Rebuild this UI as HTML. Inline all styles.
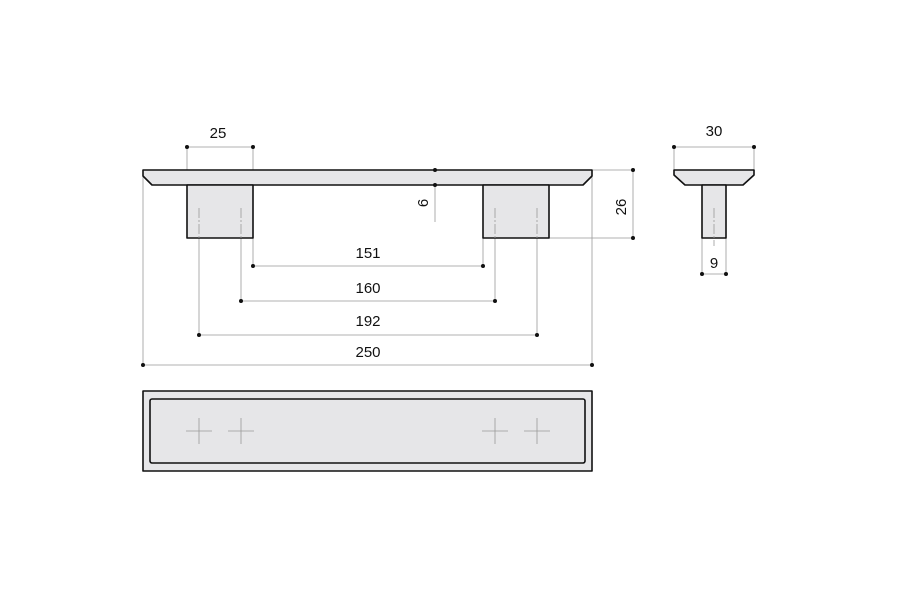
<!DOCTYPE html><html><head><style>body{margin:0;background:#fff}svg{display:block}text{font-family:"Liberation Sans",sans-serif;font-size:15px;fill:#111}</style></head><body>
<svg width="900" height="597" viewBox="0 0 900 597">
<g stroke="#999" stroke-width="0.8" fill="none">
<line x1="187" y1="147" x2="187" y2="185"/><line x1="253" y1="147" x2="253" y2="185"/>
<line x1="143" y1="176" x2="143" y2="365"/><line x1="592" y1="170" x2="592" y2="365"/>
<line x1="253" y1="238" x2="253" y2="266"/><line x1="483" y1="238" x2="483" y2="266"/>
<line x1="241" y1="238" x2="241" y2="301"/><line x1="495" y1="238" x2="495" y2="301"/>
<line x1="199" y1="238" x2="199" y2="335"/><line x1="537" y1="238" x2="537" y2="335"/>
<line x1="592" y1="170" x2="633" y2="170"/><line x1="549" y1="238" x2="633" y2="238"/>
<line x1="674" y1="147" x2="674" y2="170"/><line x1="754" y1="147" x2="754" y2="170"/>
<line x1="702" y1="238" x2="702" y2="274"/><line x1="726" y1="238" x2="726" y2="274"/>
<line x1="187" y1="147" x2="253" y2="147"/><line x1="253" y1="266" x2="483" y2="266"/>
<line x1="241" y1="301" x2="495" y2="301"/><line x1="199" y1="335" x2="537" y2="335"/>
<line x1="143" y1="365" x2="592" y2="365"/><line x1="633" y1="170" x2="633" y2="238"/>
<line x1="435" y1="170" x2="435" y2="222"/><line x1="674" y1="147" x2="754" y2="147"/>
<line x1="702" y1="274" x2="726" y2="274"/>
</g>
<g fill="#e6e6e8" stroke="#111" stroke-width="1.6" stroke-linejoin="round">
<path d="M143 170 H592 V176 L583 185 H152 L143 176 Z"/>
<rect x="187" y="185" width="66" height="53"/><rect x="483" y="185" width="66" height="53"/>
<path d="M674 170 H754 V175 L743 185 H685 L674 175 Z"/>
<rect x="702" y="185" width="24" height="53"/>
<rect x="143" y="391" width="449" height="80"/>
<rect x="150" y="399" width="435" height="64" rx="2"/>
</g>
<g stroke="#999" stroke-width="0.8" stroke-dasharray="10,2,2,2">
<line x1="199" y1="208" x2="199" y2="238"/><line x1="241" y1="208" x2="241" y2="238"/>
<line x1="495" y1="208" x2="495" y2="238"/><line x1="537" y1="208" x2="537" y2="238"/>
<line x1="714" y1="208" x2="714" y2="246"/>
</g>
<g stroke="#999" stroke-width="0.8">
<path d="M186 431h26M199 418v26M228 431h26M241 418v26M482 431h26M495 418v26M524 431h26M537 418v26"/>
</g>
<g fill="#111">
<circle cx="187" cy="147" r="2"/><circle cx="253" cy="147" r="2"/>
<circle cx="253" cy="266" r="2"/><circle cx="483" cy="266" r="2"/>
<circle cx="241" cy="301" r="2"/><circle cx="495" cy="301" r="2"/>
<circle cx="199" cy="335" r="2"/><circle cx="537" cy="335" r="2"/>
<circle cx="143" cy="365" r="2"/><circle cx="592" cy="365" r="2"/>
<circle cx="633" cy="170" r="2"/><circle cx="633" cy="238" r="2"/>
<circle cx="435" cy="170" r="2"/><circle cx="435" cy="185" r="2"/>
<circle cx="674" cy="147" r="2"/><circle cx="754" cy="147" r="2"/>
<circle cx="702" cy="274" r="2"/><circle cx="726" cy="274" r="2"/>
</g>
<text x="218" y="138" text-anchor="middle">25</text>
<text x="368" y="258" text-anchor="middle">151</text>
<text x="368" y="293" text-anchor="middle">160</text>
<text x="368" y="326" text-anchor="middle">192</text>
<text x="368" y="357" text-anchor="middle">250</text>
<text x="714" y="136" text-anchor="middle">30</text>
<text x="714" y="268" text-anchor="middle">9</text>
<text transform="translate(428,203) rotate(-90)" text-anchor="middle">6</text>
<text transform="translate(626,207) rotate(-90)" text-anchor="middle">26</text>
</svg></body></html>
